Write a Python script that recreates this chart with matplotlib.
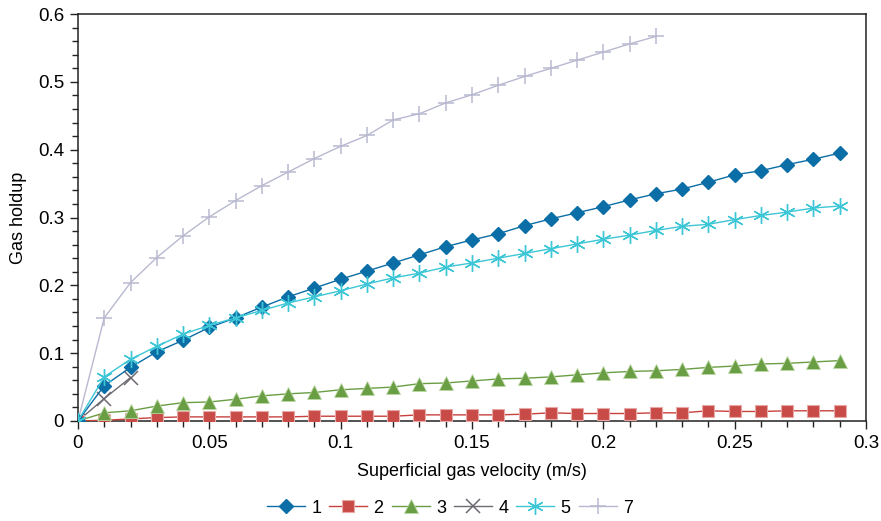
import numpy as np
import matplotlib
matplotlib.use("Agg")
import matplotlib.pyplot as plt
from matplotlib.ticker import MultipleLocator, FuncFormatter

plt.rcParams['font.family'] = ['Liberation Sans', 'DejaVu Sans']

# Superficial gas velocity (m/s)
u_full = [round(0.01 * i, 2) for i in range(30)]     # 0 .. 0.29
u_4 = [0.0, 0.01, 0.02]
u_7 = [round(0.01 * i, 2) for i in range(23)]        # 0 .. 0.22

holdup_1 = [0.0, 0.052, 0.079, 0.102, 0.119, 0.138, 0.152, 0.168, 0.183, 0.196,
            0.209, 0.221, 0.233, 0.245, 0.257, 0.267, 0.276, 0.288, 0.298, 0.307,
            0.316, 0.326, 0.335, 0.342, 0.352, 0.363, 0.369, 0.378, 0.386, 0.395]
holdup_2 = [0.0, 0.001, 0.003, 0.005, 0.006, 0.006, 0.006, 0.006, 0.006, 0.007,
            0.007, 0.007, 0.007, 0.009, 0.009, 0.009, 0.009, 0.010, 0.012, 0.011,
            0.011, 0.011, 0.012, 0.012, 0.015, 0.014, 0.014, 0.015, 0.015, 0.015]
holdup_3 = [0.0, 0.012, 0.015, 0.022, 0.027, 0.028, 0.032, 0.037, 0.040, 0.042,
            0.046, 0.048, 0.050, 0.055, 0.056, 0.059, 0.062, 0.063, 0.065, 0.068,
            0.071, 0.073, 0.074, 0.076, 0.079, 0.081, 0.084, 0.085, 0.087, 0.089]
holdup_4 = [0.0, 0.033, 0.064]
holdup_5 = [0.0, 0.065, 0.091, 0.110, 0.128, 0.141, 0.152, 0.163, 0.174, 0.183,
            0.192, 0.202, 0.211, 0.218, 0.227, 0.233, 0.240, 0.247, 0.254, 0.261,
            0.268, 0.274, 0.281, 0.287, 0.290, 0.297, 0.303, 0.308, 0.314, 0.317]
holdup_7 = [0.0, 0.152, 0.204, 0.241, 0.273, 0.301, 0.325, 0.347, 0.367, 0.387,
            0.405, 0.421, 0.444, 0.453, 0.469, 0.481, 0.495, 0.508, 0.520, 0.532,
            0.544, 0.556, 0.567]

labels = ['1', '2', '3', '4', '5', '7']

fig = plt.figure(figsize=(8.81, 5.21), dpi=100)
ax = fig.add_axes([0.0885, 0.192, 0.8945, 0.781])

ax.plot(u_full, holdup_1, color='#0B6EA6', lw=1.0, marker='D', ms=7.5,
        mfc='#0B6EA6', mec='#0B6EA6', label=labels[0], zorder=5)
ax.plot(u_full, holdup_2, color='#C8413E', lw=1.0, marker='s', ms=8,
        mfc='#C84B47', mec='#E8A8A6', mew=0.8, label=labels[1], zorder=4)
ax.plot(u_full, holdup_3, color='#6A9E44', lw=1.0, marker='^', ms=9.5,
        mfc='#6A9E44', mec='#B9D7A3', mew=0.6, label=labels[2], zorder=4)
ax.plot(u_4, holdup_4, color='#6E6A72', lw=1.0, marker='x', ms=9.5,
        mew=1.1, label=labels[3], zorder=3)
ax.plot(u_full, holdup_5, color='#3CC6D6', lw=1.0, marker=(6, 2, 0), ms=12,
        mew=1.0, label=labels[4], zorder=6)
ax.plot(u_7, holdup_7, color='#B8B9D0', lw=1.0, marker='+', ms=11,
        mew=1.1, label=labels[5], zorder=2)

ax.set_xlim(0, 0.3)
ax.set_ylim(0, 0.6)
ax.xaxis.set_major_locator(MultipleLocator(0.05))
ax.xaxis.set_minor_locator(MultipleLocator(0.01))
ax.yaxis.set_major_locator(MultipleLocator(0.1))
ax.yaxis.set_minor_locator(MultipleLocator(0.02))

fmt = FuncFormatter(lambda v, p: ('%g' % round(v, 3)))
ax.xaxis.set_major_formatter(fmt)
ax.yaxis.set_major_formatter(fmt)

ax.tick_params(which='both', direction='out', width=1.0, color='#222222',
               labelsize=13.5, top=False, right=False)
ax.tick_params(which='major', length=6, pad=4)
ax.tick_params(which='minor', length=4)

for s in ax.spines.values():
    s.set_linewidth(1.1)
    s.set_color('#222222')

ax.set_xlabel('Superficial gas velocity (m/s)', fontsize=13, labelpad=8)
ax.set_ylabel('Gas holdup', fontsize=13, labelpad=8)

ax.legend(loc='center', bbox_to_anchor=(0.472, -0.214), ncol=6,
          frameon=False, fontsize=13, handlelength=2.1, handletextpad=0.35,
          columnspacing=0.45, borderaxespad=0, borderpad=0)

fig.savefig('out.png', dpi=100, facecolor='white')
